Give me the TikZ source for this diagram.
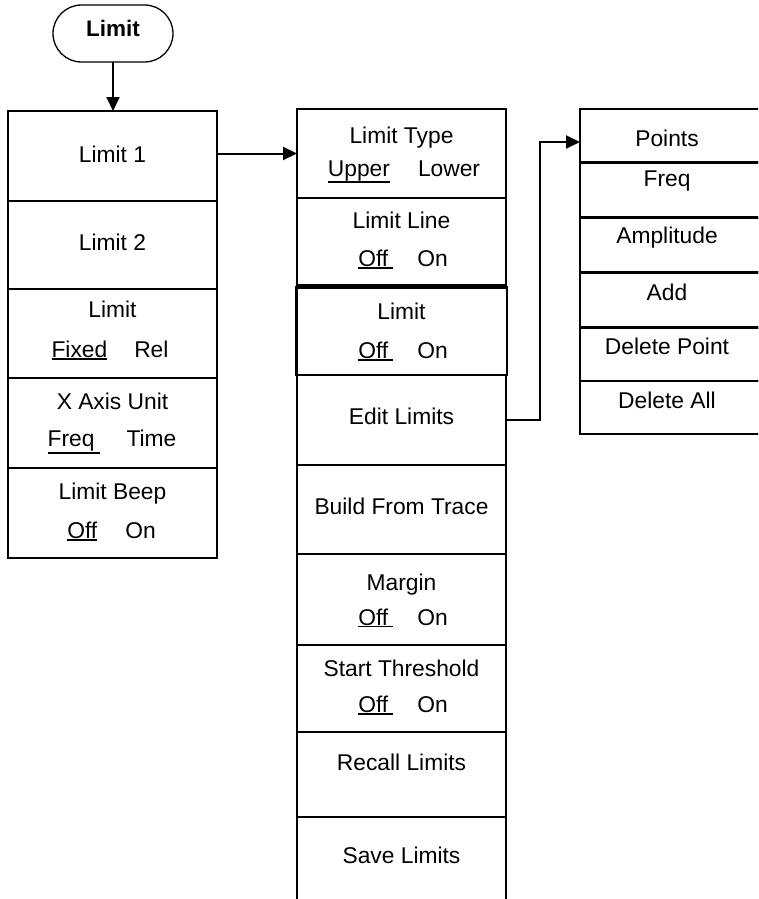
\documentclass[tikz,border=0pt]{standalone}
\usepackage{fontspec}
\setmainfont{Liberation Sans}
\usetikzlibrary{arrows.meta}
\newsavebox\ulsave
\newcommand\ulx[1]{\sbox\ulsave{#1}\rlap{\rule[\dimexpr 0pt-\dp\ulsave-2.2pt\relax]{\wd\ulsave}{1.9pt}}\usebox\ulsave}
\tikzset{
  menubox/.style={draw, line width=2.7pt, anchor=north west, inner sep=0pt, outer sep=0pt},
  lbox/.style={menubox, minimum width=209pt},
  rbox/.style={menubox, minimum width=182pt},
  txt/.style={anchor=base, inner sep=0pt, font=\fontsize{22.8}{26}\selectfont},
  arr/.style={line width=2pt, -{Triangle[length=14pt,width=13pt]}},
}
\begin{document}
\begin{tikzpicture}[x=1pt,y=-1pt]
\useasboundingbox (0,0) rectangle (758,899);
\clip (0,0) rectangle (758,899);

% top rounded box
\node[draw, line width=1.3pt, rounded corners=28.5pt, minimum width=120pt, minimum height=57pt,
      anchor=north west, inner sep=0pt, outer sep=0pt] (limit) at (53,5) {};
\node[txt, font=\fontsize{22.5}{26}\selectfont\bfseries] (limitT) at (113,36.7) {Limit};

% left column
\node[lbox, minimum height=90pt] (l1) at (8,111) {};
\node[lbox, minimum height=88pt] (l2) at (8,201) {};
\node[lbox, minimum height=89pt] (l3) at (8,289) {};
\node[lbox, minimum height=90pt] (l4) at (8,378) {};
\node[lbox, minimum height=90pt] (l5) at (8,468) {};

\node[txt] (l1t) at (112.5,162.7) {Limit 1};
\node[txt] (l2t) at (112.5,250) {Limit 2};
\node[txt] (l3a) at (112.5,317.3) {Limit};
\node[txt] (l3b) at (110,357.3) {\ulx{Fixed}\hspace{27pt}Rel};
\node[txt] (l4a) at (112.5,409) {X Axis Unit};
\node[txt] (l4b) at (112,446.7) {\ulx{Freq\hspace{5pt}}\hspace{27pt}Time};
\node[txt] (l5a) at (112.5,499) {Limit Beep};
\node[txt] (l5b) at (111.5,538.3) {\ulx{Off}\hspace{28pt}On};

% middle column
\node[lbox, minimum height=89pt] (m1) at (297,109) {};
\node[lbox, minimum height=87pt] (m2) at (297,198) {};
\node[menubox, minimum width=210.5pt, minimum height=87.5pt] (m3) at (296.5,287.5) {};
\node[lbox, minimum height=90pt] (m4) at (297,375) {};
\node[lbox, minimum height=89pt] (m5) at (297,465) {};
\node[lbox, minimum height=91pt] (m6) at (297,554) {};
\node[lbox, minimum height=87pt] (m7) at (297,645) {};
\node[lbox, minimum height=85pt] (m8) at (297,732) {};
\node[lbox, minimum height=95pt] (m9) at (297,817) {};

\node[txt] (m1a) at (401.5,143.3) {Limit Type};
\node[txt] (m1b) at (404,176) {\ulx{Upper}\hspace{28pt}Lower};
\node[txt] (m2a) at (401.5,228.3) {Limit Line};
\node[txt] (m2b) at (403,266.7) {\ulx{Off\hspace{5pt}}\hspace{24pt}On};
\node[txt] (m3a) at (401.5,319) {Limit};
\node[txt] (m3b) at (403,358.3) {\ulx{Off\hspace{5pt}}\hspace{24pt}On};
\node[txt] (m4t) at (401.5,424) {Edit Limits};
\node[txt] (m5t) at (401.5,514) {Build From Trace};
\node[txt] (m6a) at (401.5,590) {Margin};
\node[txt] (m6b) at (403,625) {\ulx{Off\hspace{5pt}}\hspace{24pt}On};
\node[txt] (m7a) at (401.5,676.7) {Start Threshold};
\node[txt] (m7b) at (403,712.3) {\ulx{Off\hspace{5pt}}\hspace{24pt}On};
\node[txt] (m8t) at (401.5,770) {Recall Limits};
\node[txt] (m9t) at (401.5,863.3) {Save Limits};

% right column
\node[rbox, minimum height=53.3pt] (r1) at (580,109) {};
\node[rbox, minimum height=55.4pt] (r2) at (580,162.3) {};
\node[rbox, minimum height=55pt] (r3) at (580,217.7) {};
\node[rbox, minimum height=55pt] (r4) at (580,272.7) {};
\node[rbox, minimum height=53.3pt] (r5) at (580,327.7) {};
\node[rbox, minimum height=53pt] (r6) at (580,381) {};

\node[txt] (r1t) at (667,146.7) {Points};
\node[txt] (r2t) at (667,186) {Freq};
\node[txt] (r3t) at (667,243.3) {Amplitude};
\node[txt] (r4t) at (667,300) {Add};
\node[txt] (r5t) at (667,354) {Delete Point};
\node[txt] (r6t) at (667,408.3) {Delete All};

% connectors
\draw[arr] (limit.south) -- (limit.south |- l1.north);
\draw[arr] (m1.west -| l1.east) -- (m1.west);
\coordinate (elbow) at (540,142);
\draw[arr] (m4.east) -| (elbow) -- (elbow -| r1.west);
\end{tikzpicture}
\end{document}
